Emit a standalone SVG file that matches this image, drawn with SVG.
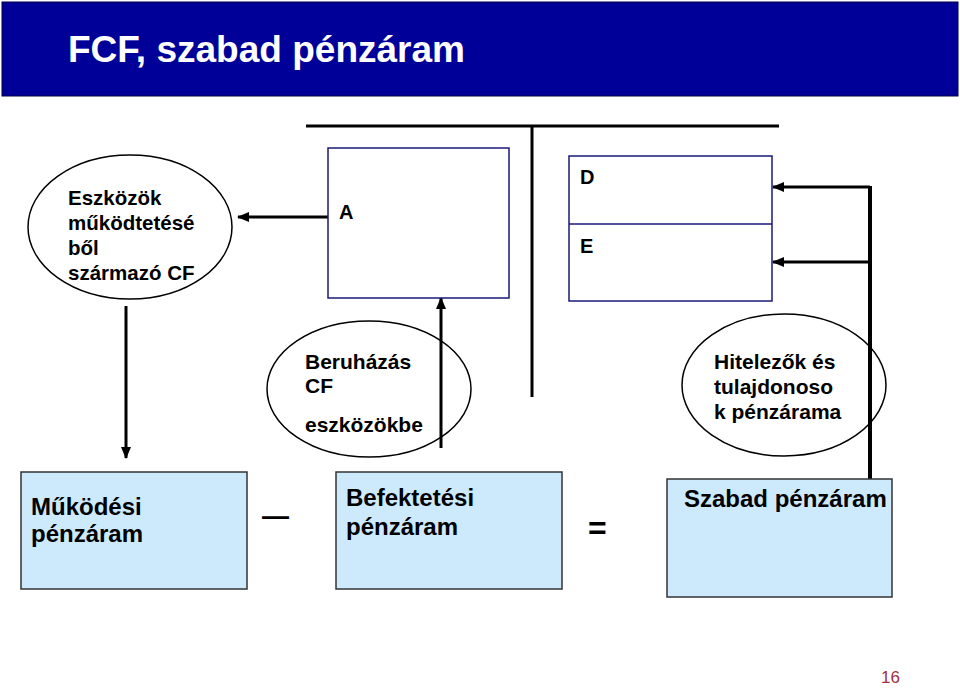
<svg xmlns="http://www.w3.org/2000/svg" width="960" height="688" viewBox="0 0 960 688">
<style>
  .t{font-family:"Liberation Sans",Arial,sans-serif;font-weight:bold;fill:#000}
  .ell{fill:none;stroke:#000;stroke-width:1.5}
  .box{fill:#fff;stroke:#1a1a7a;stroke-width:1.5}
  .lb{fill:#cdeafd;stroke:#333;stroke-width:1.5}
  .ln{stroke:#000;stroke-width:3;fill:none}
  .arr{stroke:#000;stroke-width:3;fill:none;marker-end:url(#ah)}
</style>
<defs>
  <marker id="ah" markerUnits="userSpaceOnUse" markerWidth="12" markerHeight="10" refX="11" refY="5" orient="auto">
    <path d="M0,0 L12,5 L0,10 Z" fill="#000"/>
  </marker>
</defs>
<rect width="960" height="688" fill="#fff"/>
<g id="title">
  <rect x="2" y="2" width="956" height="94" fill="#000099" stroke="#000044" stroke-width="1"/>
  <text x="68" y="62" class="t" style="fill:#fff" font-size="36" textLength="397" lengthAdjust="spacingAndGlyphs">FCF, szabad pénzáram</text>
</g>
<g id="connectors">
  <line class="ln" x1="306" y1="126" x2="779" y2="126"/>
  <line class="ln" x1="532" y1="126" x2="532" y2="397"/>
  <line x1="870" y1="186" x2="870" y2="479" stroke="#000" stroke-width="4"/>
  <line class="arr" x1="870" y1="187" x2="773" y2="187"/>
  <line class="arr" x1="870" y1="262" x2="773" y2="262"/>
  <line class="arr" x1="328" y1="217" x2="238" y2="217"/>
  <line class="arr" x1="126" y1="306" x2="126" y2="458"/>
  <line class="arr" x1="441" y1="448" x2="441" y2="298"/>
</g>
<g id="node-eszkozok">
  <ellipse class="ell" cx="130" cy="227" rx="102" ry="72"/>
  <text class="t" font-size="20.5" x="68" y="205">Eszközök</text>
  <text class="t" font-size="20.5" x="68" y="230">működtetésé</text>
  <text class="t" font-size="20.5" x="68" y="255">ből</text>
  <text class="t" font-size="20.5" x="68" y="280">származó CF</text>
</g>
<g id="node-A">
  <rect class="box" x="328" y="148" width="181" height="150"/>
  <text class="t" font-size="20" x="339" y="219">A</text>
</g>
<g id="node-DE">
  <rect class="box" x="569" y="156" width="203" height="145"/>
  <line x1="569" y1="224" x2="772" y2="224" stroke="#1a1a7a" stroke-width="1.5"/>
  <text class="t" font-size="20" x="580" y="184">D</text>
  <text class="t" font-size="20" x="580" y="253">E</text>
</g>
<g id="node-beruhazas">
  <ellipse class="ell" cx="369" cy="389" rx="102" ry="68"/>
  <text class="t" font-size="21" x="305" y="369">Beruházás</text>
  <text class="t" font-size="21" x="305" y="393">CF</text>
  <text class="t" font-size="21" x="305" y="432">eszközökbe</text>
</g>
<g id="node-hitelezok">
  <ellipse class="ell" cx="784" cy="385" rx="102" ry="71"/>
  <text class="t" font-size="21" x="714" y="369">Hitelezők és</text>
  <text class="t" font-size="21" x="714" y="394">tulajdonoso</text>
  <text class="t" font-size="21" x="714" y="419">k pénzárama</text>
</g>
<g id="node-mukodesi">
  <rect class="lb" x="21" y="472" width="226" height="117"/>
  <text class="t" font-size="24" x="31" y="515">Működési</text>
  <text class="t" font-size="24" x="31" y="542">pénzáram</text>
</g>
<g id="op-minus">
  <text class="t" font-size="27" x="262" y="525">—</text>
</g>
<g id="node-befektetesi">
  <rect class="lb" x="336" y="472" width="226" height="117"/>
  <text class="t" font-size="24" x="346" y="506">Befektetési</text>
  <text class="t" font-size="24" x="346" y="535">pénzáram</text>
</g>
<g id="op-equals">
  <text class="t" font-size="32" x="588" y="539">=</text>
</g>
<g id="node-szabad">
  <rect class="lb" x="667" y="479" width="225" height="118"/>
  <text class="t" font-size="24" x="684" y="507">Szabad pénzáram</text>
</g>
<text x="881" y="683" font-family="Liberation Sans,Arial,sans-serif" font-size="17" fill="#a0303c">16</text>
</svg>
